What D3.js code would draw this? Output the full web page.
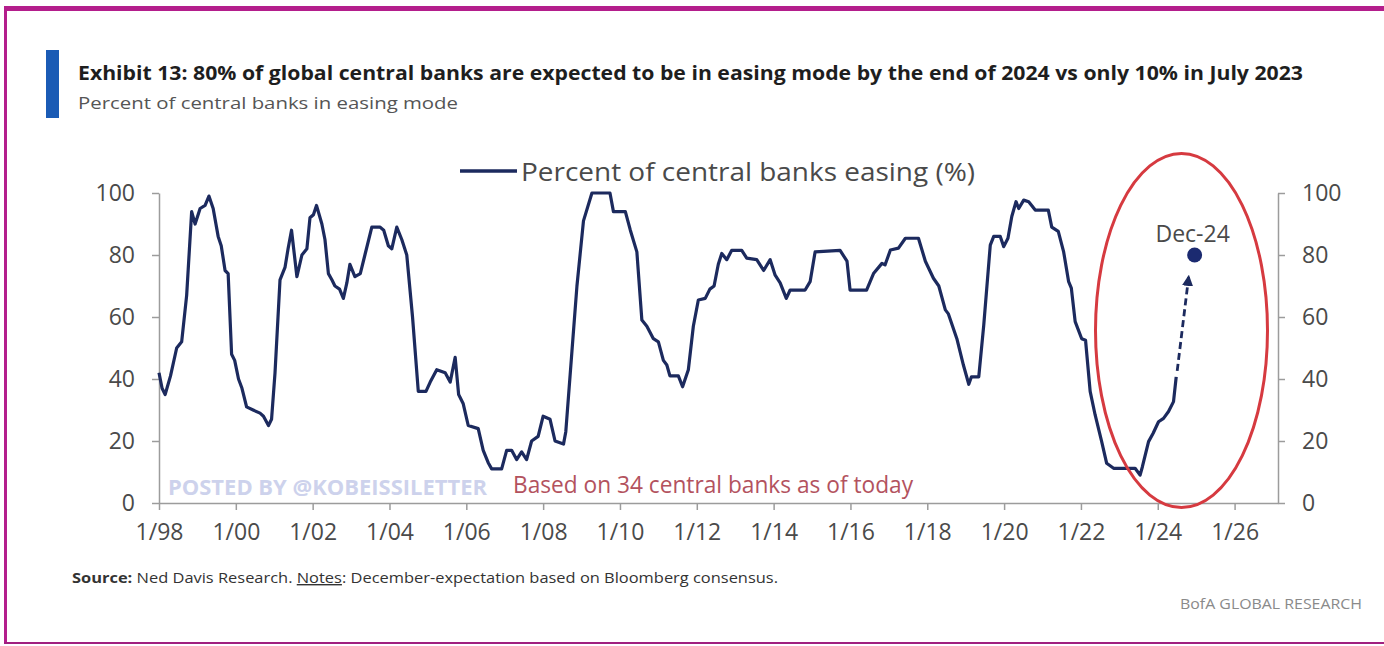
<!DOCTYPE html>
<html>
<head>
<meta charset="utf-8">
<script src="https://cdn.jsdelivr.net/npm/d3@7"></script>
<style>
  body { margin: 0; background: #fff; }
  svg { display: block; }
</style>
</head>
<body>
<div id="chart"></div>
<script>
// decimal years and % of central banks easing
const years = [
  1998.00, 1998.08, 1998.16, 1998.30, 1998.46, 1998.59, 1998.72, 1998.85, 1998.94, 1999.07,
  1999.20, 1999.30, 1999.41, 1999.54, 1999.62, 1999.72, 1999.80, 1999.89, 1999.97, 2000.07,
  2000.16, 2000.28, 2000.45, 2000.63, 2000.72, 2000.85, 2000.93, 2001.02, 2001.15, 2001.28,
  2001.36, 2001.45, 2001.59, 2001.72, 2001.85, 2001.93, 2002.02, 2002.10, 2002.24, 2002.32,
  2002.41, 2002.50, 2002.58, 2002.70, 2002.80, 2002.89, 2002.97, 2003.10, 2003.24, 2003.36,
  2003.54, 2003.75, 2003.85, 2003.97, 2004.06, 2004.19, 2004.32, 2004.45, 2004.60, 2004.75,
  2004.95, 2005.06, 2005.23, 2005.45, 2005.58, 2005.71, 2005.80, 2005.92, 2006.05, 2006.31,
  2006.44, 2006.57, 2006.66, 2006.92, 2007.05, 2007.18, 2007.31, 2007.44, 2007.57, 2007.70,
  2007.87, 2008.00, 2008.18, 2008.31, 2008.53, 2008.59, 2008.75, 2008.88, 2009.05, 2009.27,
  2009.74, 2009.83, 2010.14, 2010.27, 2010.44, 2010.57, 2010.70, 2010.87, 2011.00, 2011.13,
  2011.22, 2011.30, 2011.52, 2011.63, 2011.78, 2011.91, 2012.04, 2012.22, 2012.34, 2012.45,
  2012.56, 2012.65, 2012.78, 2012.91, 2013.17, 2013.30, 2013.56, 2013.74, 2013.91, 2014.04,
  2014.17, 2014.33, 2014.43, 2014.82, 2014.95, 2015.08, 2015.73, 2015.91, 2015.99, 2016.42,
  2016.60, 2016.82, 2016.90, 2017.04, 2017.25, 2017.43, 2017.77, 2017.95, 2018.16, 2018.30,
  2018.47, 2018.55, 2018.77, 2018.94, 2019.08, 2019.15, 2019.34, 2019.47, 2019.64, 2019.73,
  2019.90, 2019.99, 2020.10, 2020.20, 2020.31, 2020.38, 2020.51, 2020.64, 2020.81, 2021.15,
  2021.24, 2021.41, 2021.55, 2021.68, 2021.75, 2021.85, 2022.02, 2022.12, 2022.24, 2022.37,
  2022.54, 2022.67, 2022.85, 2023.41, 2023.54, 2023.60, 2023.76, 2023.88, 2024.02, 2024.15,
  2024.28, 2024.41, 2024.48
];
const values = [
  42, 37, 35, 41, 50, 52, 67, 94, 90, 95,
  96, 99, 95, 86, 83, 75, 74, 48, 46, 40,
  37, 31, 30, 29, 28, 25, 27, 42, 72, 76,
  82, 88, 73, 80, 82, 92, 93, 96, 90, 85,
  74, 72, 70, 69, 66, 71, 77, 73, 74, 80,
  89, 89, 88, 83, 82, 89, 85, 80, 60, 36,
  36, 39, 43, 42, 39, 47, 35, 32, 25, 24,
  17, 13, 11, 11, 17, 17, 14, 16.5, 14, 20,
  21.5, 28, 27, 20, 19, 23, 49, 70, 91, 100,
  100, 94, 94, 88, 81, 59, 57, 53, 52, 46,
  44.5, 41, 41, 37.5, 43, 57, 65.5, 66, 69, 70,
  77, 80.5, 78.5, 81.5, 81.5, 79, 78.5, 75, 78.5, 73.5,
  71, 66, 68.7, 68.7, 71.4, 81, 81.5, 78, 68.7, 68.7,
  74, 77.3, 76.8, 81.6, 82.2, 85.4, 85.4, 78, 72.5, 70,
  62.3, 61, 53, 44.5, 38.3, 40.7, 40.7, 57.4, 83.2, 86,
  86, 82.7, 85.4, 92.4, 97.2, 95, 97.7, 97.2, 94.5, 94.5,
  89, 87.6, 81, 71.4, 69.3, 58.5, 53, 52.5, 36, 28.4,
  19.8, 12.8, 11.2, 11.2, 9, 11.7, 19.8, 22.5, 26.2, 27.3,
  29.5, 32.7, 40.7
];

const tickYears = [1998, 2000, 2002, 2004, 2006, 2008, 2010, 2012, 2014, 2016, 2018, 2020, 2022, 2024, 2026];
const tickLabels = ['1/98', '1/00', '1/02', '1/04', '1/06', '1/08', '1/10', '1/12', '1/14', '1/16', '1/18', '1/20', '1/22', '1/24', '1/26'];
const yTicks = [0, 20, 40, 60, 80, 100];

const forecastYear = 2024.96;
const forecastValue = 80;
const forecastLabel = 'Dec-24';

const titleText = 'Exhibit 13: 80% of global central banks are expected to be in easing mode by the end of 2024 vs only 10% in July 2023';
const subtitleText = 'Percent of central banks in easing mode';
const legendText = 'Percent of central banks easing (%)';

const FONT = "'Open Sans', 'Noto Sans', sans-serif";
const LINE_COLOR = '#1c2a5e';
const AXIS_COLOR = '#9c9c9c';
const TEXT_COLOR = '#4a4a4a';

const width = 1384, height = 646;

const svg = d3.select('#chart').append('svg')
  .attr('width', width)
  .attr('height', height)
  .attr('viewBox', `0 0 ${width} ${height}`);

svg.append('rect').attr('width', width).attr('height', height).attr('fill', '#fff');

// magenta frame (top, left, bottom)
svg.append('rect').attr('x', 4).attr('y', 6).attr('width', width - 4).attr('height', 5).attr('fill', '#b41e8c');
svg.append('rect').attr('x', 4).attr('y', 6).attr('width', 3).attr('height', 638).attr('fill', '#b41e8c');
svg.append('rect').attr('x', 4).attr('y', 642).attr('width', width - 4).attr('height', 2).attr('fill', '#a0207f');

// title block
svg.append('rect').attr('x', 46).attr('y', 50).attr('width', 13).attr('height', 68).attr('fill', '#1a5bb5');

svg.append('text')
  .attr('x', 78).attr('y', 80)
  .attr('font-family', FONT).attr('font-size', 19).attr('font-weight', 'bold')
  .attr('fill', '#1e1e1e')
  .attr('textLength', 1225).attr('lengthAdjust', 'spacingAndGlyphs')
  .text(titleText);

svg.append('text')
  .attr('x', 78).attr('y', 109)
  .attr('font-family', FONT).attr('font-size', 17)
  .attr('fill', '#555')
  .attr('textLength', 380).attr('lengthAdjust', 'spacingAndGlyphs')
  .text(subtitleText);

// scales
const x = d3.scaleLinear().domain([1998, 2027.13]).range([159, 1278]);
const y = d3.scaleLinear().domain([0, 100]).range([503, 193]);

function styleAxis(g) {
  g.select('.domain').attr('stroke', AXIS_COLOR).attr('stroke-width', 1.5);
  g.selectAll('.tick line').attr('stroke', AXIS_COLOR).attr('stroke-width', 1.5);
  g.selectAll('.tick text')
    .attr('font-family', FONT).attr('font-size', 23)
    .attr('fill', TEXT_COLOR);
}

svg.append('g')
  .attr('transform', `translate(0,${y(0)})`)
  .call(d3.axisBottom(x).tickValues(tickYears).tickFormat((d, i) => tickLabels[i])
    .tickSize(7).tickSizeOuter(0).tickPadding(14))
  .call(styleAxis);

svg.append('g')
  .attr('transform', `translate(${x.range()[0]},0)`)
  .call(d3.axisLeft(y).tickValues(yTicks).tickSize(7).tickSizeOuter(0).tickPadding(17))
  .call(styleAxis);

svg.append('g')
  .attr('transform', `translate(${x.range()[1]},0)`)
  .call(d3.axisRight(y).tickValues(yTicks).tickSize(7).tickSizeOuter(0).tickPadding(17))
  .call(styleAxis);

// watermark + note inside the plot
svg.append('text')
  .attr('x', 168).attr('y', 495)
  .attr('font-family', FONT).attr('font-size', 21).attr('font-weight', 'bold')
  .attr('fill', '#cdd2ec')
  .attr('textLength', 319).attr('lengthAdjust', 'spacingAndGlyphs')
  .text('POSTED BY @KOBEISSILETTER');

svg.append('text')
  .attr('x', 513).attr('y', 493)
  .attr('font-family', FONT).attr('font-size', 24)
  .attr('fill', '#b3525e')
  .attr('textLength', 400).attr('lengthAdjust', 'spacingAndGlyphs')
  .text('Based on 34 central banks as of today');

// legend
svg.append('line')
  .attr('x1', 460).attr('x2', 517).attr('y1', 171).attr('y2', 171)
  .attr('stroke', LINE_COLOR).attr('stroke-width', 3.5);
svg.append('text')
  .attr('x', 521).attr('y', 181)
  .attr('font-family', FONT).attr('font-size', 26)
  .attr('fill', TEXT_COLOR)
  .attr('textLength', 454).attr('lengthAdjust', 'spacingAndGlyphs')
  .text(legendText);

// main series
const series = d3.zip(years, values);
const line = d3.line().x(d => x(d[0])).y(d => y(d[1]));

svg.append('path')
  .datum(series)
  .attr('d', line)
  .attr('fill', 'none')
  .attr('stroke', LINE_COLOR)
  .attr('stroke-width', 3.2)
  .attr('stroke-linejoin', 'round');

// forecast arrow and dot
const last = series[series.length - 1];
const ax1 = x(last[0]) + 1, ay1 = y(last[1]) - 6;
const ax2 = x(forecastYear) - 6, ay2 = y(forecastValue) + 22;

svg.append('defs').append('marker')
  .attr('id', 'arrowhead')
  .attr('viewBox', '0 -5 10 10').attr('refX', 8).attr('refY', 0)
  .attr('markerWidth', 4).attr('markerHeight', 4).attr('orient', 'auto')
  .attr('markerUnits', 'strokeWidth')
  .append('path').attr('d', 'M0,-5L10,0L0,5Z').attr('fill', LINE_COLOR);

svg.append('line')
  .attr('x1', ax1).attr('y1', ay1).attr('x2', ax2).attr('y2', ay2)
  .attr('stroke', LINE_COLOR).attr('stroke-width', 2.8)
  .attr('stroke-dasharray', '7,4')
  .attr('marker-end', 'url(#arrowhead)');

svg.append('circle')
  .attr('cx', x(forecastYear)).attr('cy', y(forecastValue))
  .attr('r', 7.5)
  .attr('fill', '#1b2a70');

svg.append('text')
  .attr('x', x(forecastYear) - 2).attr('y', 242)
  .attr('text-anchor', 'middle')
  .attr('font-family', FONT).attr('font-size', 23)
  .attr('fill', TEXT_COLOR)
  .text(forecastLabel);

// red highlight ellipse
svg.append('ellipse')
  .attr('cx', 1181.5).attr('cy', 330.5).attr('rx', 86).attr('ry', 177)
  .attr('fill', 'none')
  .attr('stroke', '#d63a40').attr('stroke-width', 3);

// footer
const source = svg.append('text')
  .attr('x', 72).attr('y', 583)
  .attr('font-family', FONT).attr('font-size', 14)
  .attr('fill', '#333')
  .attr('textLength', 706).attr('lengthAdjust', 'spacingAndGlyphs');
source.append('tspan').attr('font-weight', 'bold').text('Source:');
source.append('tspan').text(' Ned Davis Research. ');
source.append('tspan').attr('text-decoration', 'underline').text('Notes');
source.append('tspan').text(': December-expectation based on Bloomberg consensus.');

svg.append('text')
  .attr('x', 1362).attr('y', 609)
  .attr('text-anchor', 'end')
  .attr('font-family', FONT).attr('font-size', 14)
  .attr('fill', '#8a8a8a')
  .attr('textLength', 182).attr('lengthAdjust', 'spacingAndGlyphs')
  .text('BofA GLOBAL RESEARCH');
</script>
</body>
</html>
